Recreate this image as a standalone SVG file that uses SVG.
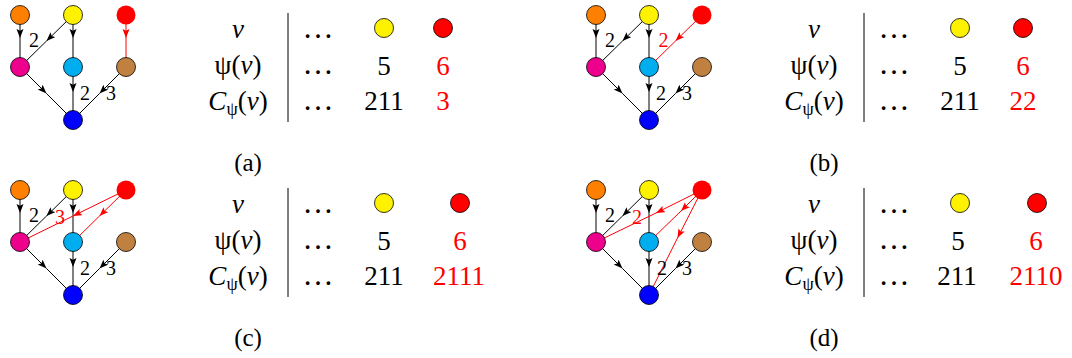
<svg xmlns="http://www.w3.org/2000/svg" width="1072" height="358" viewBox="0 0 1072 358">
<style>
.n{stroke:#000;stroke-width:0.8}
.e{fill:none;stroke:#000;stroke-width:1;marker-mid:url(#ah)}
.er{fill:none;stroke:#f00;stroke-width:1;marker-mid:url(#ahr)}
.t{font-family:"Liberation Serif","DejaVu Serif",serif;font-size:27px;fill:#000}
.dots{font-size:31px}
.m{text-anchor:middle}
.lab{font-family:"Liberation Serif","DejaVu Serif",serif;font-size:20px;text-anchor:middle;fill:#000}
.red{fill:#f00}
.cap{font-family:"Liberation Serif","DejaVu Serif",serif;font-size:25px;text-anchor:middle;fill:#000}
.i{font-style:italic}
.sub{font-size:18px}
.vl{stroke:#000;stroke-width:1}
</style>
<defs>
<marker id="ah" markerUnits="userSpaceOnUse" markerWidth="10" markerHeight="8" refX="9" refY="3.5" orient="auto"><path d="M0,0 L9,3.5 L0,7 L1.8,3.5 z" fill="#000"/></marker>
<marker id="ahr" markerUnits="userSpaceOnUse" markerWidth="10" markerHeight="8" refX="9" refY="3.5" orient="auto"><path d="M0,0 L9,3.5 L0,7 L1.8,3.5 z" fill="#f00"/></marker>
</defs>

<!-- Panel a -->
<g id="panel-a">
<g id="a-connectors">
<path class="e" d="M20 15 L20 38 L20 67"/>
<path class="e" d="M73 15 L46.5 41 L20 67"/>
<path class="e" d="M73 15 L73 38 L73 67"/>
<path class="e" d="M20 67 L46.5 93.5 L73 120"/>
<path class="e" d="M73 67 L73 92 L73 120"/>
<path class="e" d="M126 67 L99.5 93.5 L73 120"/>
<path class="er" d="M126 15 L126 38 L126 67"/>
<text class="lab" x="34" y="47">2</text>
<text class="lab" x="85" y="100">2</text>
<text class="lab" x="111" y="100">3</text>
</g>
<g id="a-orange"><circle class="n" cx="20" cy="15" r="9.5" fill="#FF8000"/></g>
<g id="a-yellow"><circle class="n" cx="73" cy="15" r="9.5" fill="#FFF200"/></g>
<g id="a-red"><circle cx="126" cy="15" r="9.5" fill="#FF0000"/></g>
<g id="a-magenta"><circle class="n" cx="20" cy="67" r="9.5" fill="#EC008C"/></g>
<g id="a-cyan"><circle class="n" cx="73" cy="67" r="9.5" fill="#00AEEF"/></g>
<g id="a-brown"><circle class="n" cx="126" cy="67" r="9.5" fill="#BF8040"/></g>
<g id="a-blue"><circle class="n" cx="73" cy="120" r="9.5" fill="#0000FF"/></g>
<g id="a-table">
<text class="t m i" x="238" y="38">v</text>
<text class="t m" x="238" y="74">ψ(<tspan class="i">v</tspan>)</text>
<text class="t m" x="238" y="110"><tspan class="i">C</tspan><tspan class="sub" dy="5">ψ</tspan><tspan dy="-5">(</tspan><tspan class="i">v</tspan>)</text>
<line class="vl" x1="288" y1="13" x2="288" y2="122"/>
<text class="t m dots" x="318" y="38">…</text>
<text class="t m dots" x="318" y="74">…</text>
<text class="t m dots" x="318" y="110">…</text>
<circle class="n" cx="384" cy="28" r="9.5" fill="#FFF200"/>
<text class="t m" x="384" y="75">5</text>
<text class="t m" x="384" y="110">211</text>
<circle class="n" cx="443" cy="28" r="9.5" fill="#FF0000"/>
<text class="t m red" x="443" y="75">6</text>
<text class="t m red" x="443" y="110">3</text>
</g>
<text class="cap" x="248" y="171">(a)</text>
</g>

<!-- Panel b -->
<g id="panel-b" transform="translate(576,0)">
<g id="b-connectors">
<path class="e" d="M20 15 L20 38 L20 67"/>
<path class="e" d="M73 15 L46.5 41 L20 67"/>
<path class="e" d="M73 15 L73 38 L73 67"/>
<path class="e" d="M20 67 L46.5 93.5 L73 120"/>
<path class="e" d="M73 67 L73 92 L73 120"/>
<path class="e" d="M126 67 L99.5 93.5 L73 120"/>
<path class="er" d="M126 15 L99.5 41 L73 67"/>
<text class="lab" x="34" y="47">2</text>
<text class="lab red" x="87.5" y="47">2</text>
<text class="lab" x="85" y="100">2</text>
<text class="lab" x="111" y="100">3</text>
</g>
<g id="b-orange"><circle class="n" cx="20" cy="15" r="9.5" fill="#FF8000"/></g>
<g id="b-yellow"><circle class="n" cx="73" cy="15" r="9.5" fill="#FFF200"/></g>
<g id="b-red"><circle cx="126" cy="15" r="9.5" fill="#FF0000"/></g>
<g id="b-magenta"><circle class="n" cx="20" cy="67" r="9.5" fill="#EC008C"/></g>
<g id="b-cyan"><circle class="n" cx="73" cy="67" r="9.5" fill="#00AEEF"/></g>
<g id="b-brown"><circle class="n" cx="126" cy="67" r="9.5" fill="#BF8040"/></g>
<g id="b-blue"><circle class="n" cx="73" cy="120" r="9.5" fill="#0000FF"/></g>
<g id="b-table">
<text class="t m i" x="238" y="38">v</text>
<text class="t m" x="238" y="74">ψ(<tspan class="i">v</tspan>)</text>
<text class="t m" x="238" y="110"><tspan class="i">C</tspan><tspan class="sub" dy="5">ψ</tspan><tspan dy="-5">(</tspan><tspan class="i">v</tspan>)</text>
<line class="vl" x1="288" y1="13" x2="288" y2="122"/>
<text class="t m dots" x="318" y="38">…</text>
<text class="t m dots" x="318" y="74">…</text>
<text class="t m dots" x="318" y="110">…</text>
<circle class="n" cx="384" cy="28" r="9.5" fill="#FFF200"/>
<text class="t m" x="384" y="75">5</text>
<text class="t m" x="384" y="110">211</text>
<circle class="n" cx="447" cy="28" r="9.5" fill="#FF0000"/>
<text class="t m red" x="447" y="75">6</text>
<text class="t m red" x="447" y="110">22</text>
</g>
<text class="cap" x="248" y="171">(b)</text>
</g>

<!-- Panel c -->
<g id="panel-c" transform="translate(0,175)">
<g id="c-connectors">
<path class="e" d="M20 15 L20 38 L20 67"/>
<path class="e" d="M73 15 L46.5 41 L20 67"/>
<path class="e" d="M73 15 L73 38 L73 67"/>
<path class="e" d="M20 67 L46.5 93.5 L73 120"/>
<path class="e" d="M73 67 L73 92 L73 120"/>
<path class="e" d="M126 67 L99.5 93.5 L73 120"/>
<path class="er" d="M126 15 L73 41 L20 67"/>
<path class="er" d="M126 15 L99.5 41 L73 67"/>
<text class="lab" x="34" y="47">2</text>
<text class="lab red" x="60" y="49">3</text>
<text class="lab" x="85" y="100">2</text>
<text class="lab" x="111" y="100">3</text>
</g>
<g id="c-orange"><circle class="n" cx="20" cy="15" r="9.5" fill="#FF8000"/></g>
<g id="c-yellow"><circle class="n" cx="73" cy="15" r="9.5" fill="#FFF200"/></g>
<g id="c-red"><circle cx="126" cy="15" r="9.5" fill="#FF0000"/></g>
<g id="c-magenta"><circle class="n" cx="20" cy="67" r="9.5" fill="#EC008C"/></g>
<g id="c-cyan"><circle class="n" cx="73" cy="67" r="9.5" fill="#00AEEF"/></g>
<g id="c-brown"><circle class="n" cx="126" cy="67" r="9.5" fill="#BF8040"/></g>
<g id="c-blue"><circle class="n" cx="73" cy="120" r="9.5" fill="#0000FF"/></g>
<g id="c-table">
<text class="t m i" x="238" y="38">v</text>
<text class="t m" x="238" y="74">ψ(<tspan class="i">v</tspan>)</text>
<text class="t m" x="238" y="110"><tspan class="i">C</tspan><tspan class="sub" dy="5">ψ</tspan><tspan dy="-5">(</tspan><tspan class="i">v</tspan>)</text>
<line class="vl" x1="288" y1="13" x2="288" y2="122"/>
<text class="t m dots" x="318" y="38">…</text>
<text class="t m dots" x="318" y="74">…</text>
<text class="t m dots" x="318" y="110">…</text>
<circle class="n" cx="384" cy="28" r="9.5" fill="#FFF200"/>
<text class="t m" x="384" y="75">5</text>
<text class="t m" x="384" y="110">211</text>
<circle class="n" cx="460" cy="28" r="9.5" fill="#FF0000"/>
<text class="t m red" x="460" y="75">6</text>
<text class="t m red" x="459" y="110">2111</text>
</g>
<text class="cap" x="248" y="171">(c)</text>
</g>

<!-- Panel d -->
<g id="panel-d" transform="translate(576,175)">
<g id="d-connectors">
<path class="e" d="M20 15 L20 38 L20 67"/>
<path class="e" d="M73 15 L46.5 41 L20 67"/>
<path class="e" d="M73 15 L73 38 L73 67"/>
<path class="e" d="M20 67 L46.5 93.5 L73 120"/>
<path class="e" d="M73 67 L73 92 L73 120"/>
<path class="e" d="M126 67 L99.5 93.5 L73 120"/>
<path class="er" d="M126 15 L80 38 L20 67"/>
<path class="er" d="M126 15 L105 36 L73 67"/>
<path class="er" d="M126 15 L101.5 63 L73 120"/>
<text class="lab" x="34" y="47">2</text>
<text class="lab red" x="61" y="49">2</text>
<text class="lab" x="86" y="100">2</text>
<text class="lab" x="111" y="100">3</text>
</g>
<g id="d-orange"><circle class="n" cx="20" cy="15" r="9.5" fill="#FF8000"/></g>
<g id="d-yellow"><circle class="n" cx="73" cy="15" r="9.5" fill="#FFF200"/></g>
<g id="d-red"><circle cx="126" cy="15" r="9.5" fill="#FF0000"/></g>
<g id="d-magenta"><circle class="n" cx="20" cy="67" r="9.5" fill="#EC008C"/></g>
<g id="d-cyan"><circle class="n" cx="73" cy="67" r="9.5" fill="#00AEEF"/></g>
<g id="d-brown"><circle class="n" cx="126" cy="67" r="9.5" fill="#BF8040"/></g>
<g id="d-blue"><circle class="n" cx="73" cy="120" r="9.5" fill="#0000FF"/></g>
<g id="d-table">
<text class="t m i" x="238" y="38">v</text>
<text class="t m" x="238" y="74">ψ(<tspan class="i">v</tspan>)</text>
<text class="t m" x="238" y="110"><tspan class="i">C</tspan><tspan class="sub" dy="5">ψ</tspan><tspan dy="-5">(</tspan><tspan class="i">v</tspan>)</text>
<line class="vl" x1="288" y1="13" x2="288" y2="122"/>
<text class="t m dots" x="318" y="38">…</text>
<text class="t m dots" x="318" y="74">…</text>
<text class="t m dots" x="318" y="110">…</text>
<circle class="n" cx="384" cy="28" r="9.5" fill="#FFF200"/>
<text class="t m" x="382" y="75">5</text>
<text class="t m" x="381" y="110">211</text>
<circle class="n" cx="461" cy="28" r="9.5" fill="#FF0000"/>
<text class="t m red" x="460" y="75">6</text>
<text class="t m red" x="460" y="110">2110</text>
</g>
<text class="cap" x="248" y="171">(d)</text>
</g>
</svg>
